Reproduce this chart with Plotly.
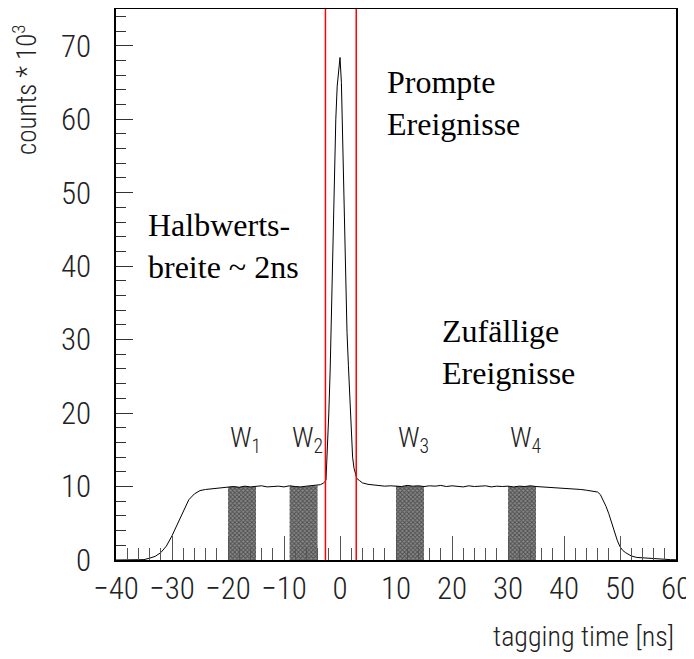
import plotly.graph_objects as go

# tagging time spectrum (ns) and counts (in units of 10^3)
t_left = [-40, -39, -38, -37, -36, -35, -34, -33, -32, -31, -30, -29, -28, -27, -26,
          -25, -24, -23, -22, -21, -20, -19, -18, -17, -16, -15, -14, -13, -12, -11,
          -10, -9, -8, -7, -6, -5, -4, -3.5, -3]
c_left = [0.0, 0.0, 0.0, 0.01, 0.02, 0.05, 0.25, 0.5, 1.0, 1.9, 3.3, 5.0, 6.6, 8.2, 9.0,
          9.45, 9.6, 9.7, 9.75, 9.85, 9.95, 10.0, 9.9, 10.05, 9.95, 10.0, 10.1, 9.95, 10.0, 10.05,
          9.95, 10.1, 10.0, 9.95, 10.05, 10.1, 10.15, 10.25, 10.45]

t_peak = [-2.75, -2.5, -2.25, -2.0, -1.75, -1.5, -1.25, -1.0, -0.75, -0.5, -0.25, 0.0,
          0.25, 0.5, 0.75, 1.0, 1.25, 1.5, 1.75, 2.0, 2.25, 2.5, 2.75, 3.0, 3.5]
c_peak = [10.6, 10.9, 14.5, 20.0, 26.0, 35.0, 43.0, 51.0, 60.0, 64.5, 67.0, 68.4,
          65.0, 56.0, 48.0, 38.0, 31.0, 26.5, 22.5, 17.0, 14.0, 12.5, 11.6, 11.1, 10.8]

t_right = [4, 5, 6, 7, 8, 9, 10, 11, 12, 13, 14, 15, 16, 17, 18, 19, 20, 21, 22, 23, 24,
           25, 26, 27, 28, 29, 30, 31, 32, 33, 34, 35, 36, 37, 38, 39, 40, 41, 42, 43, 44,
           45, 46, 46.5, 47, 47.5, 48, 48.5, 49, 49.5, 50, 50.5, 51, 52, 53, 54, 55, 56,
           57, 58, 59, 60]
c_right = [10.5, 10.3, 10.2, 10.15, 10.05, 10.1, 10.1, 10.0, 10.15, 10.05, 10.1, 10.0,
           10.1, 10.05, 10.15, 10.0, 10.1, 10.05, 9.95, 10.1, 10.0, 10.05, 10.1, 9.95, 10.05,
           10.0, 10.05, 9.95, 10.05, 10.0, 10.1, 10.0, 9.95, 10.0, 9.9, 9.85, 9.8, 9.75, 9.7,
           9.6, 9.5, 9.4, 9.25, 8.9, 8.2, 7.3, 6.3, 5.1, 3.8, 2.7, 1.8, 1.3, 1.0, 0.55, 0.35,
           0.28, 0.25, 0.2, 0.15, 0.1, 0.05, 0.03]

t = t_left + t_peak + t_right
counts = c_left + c_peak + c_right

# random-coincidence windows
w_names = ["W<sub>1</sub>", "W<sub>2</sub>", "W<sub>3</sub>", "W<sub>4</sub>"]
w_lo = [-20, -9, 10, 30]
w_hi = [-15, -4, 15, 35]

# prompt cut
prompt_cut = [-2.6, 2.9]

thin = "Liberation Sans Narrow, Roboto Condensed, Roboto"
tick_font = dict(family=thin, size=31, color="#222", weight=300)
serif = dict(family="Liberation Serif", size=32, color="black")

fig = go.Figure()

for lo, hi in zip(w_lo, w_hi):
    xs = [x for x in t if lo <= x <= hi]
    ys = [c for x, c in zip(t, counts) if lo <= x <= hi]
    fig.add_trace(go.Scatter(
        x=xs, y=ys, mode="lines", fill="tozeroy",
        line=dict(width=0, color="#333"),
        fillcolor="#555",
        fillpattern=dict(shape="x", size=3, solidity=0.5, fgcolor="#111", bgcolor="#888"),
        showlegend=False, hoverinfo="skip"))

fig.add_trace(go.Scatter(x=t, y=counts, mode="lines",
                         line=dict(color="black", width=1), showlegend=False))

for xc in prompt_cut:
    fig.add_shape(type="line", xref="x", yref="paper", x0=xc, x1=xc, y0=0, y1=1,
                  line=dict(color="red", width=1.5))

for name, lo in zip(w_names, w_lo):
    fig.add_annotation(x=lo, y=16.4, text=name, showarrow=False, xanchor="left",
                       yanchor="middle", font=dict(family=thin, size=28, color="#222", weight=300))

fig.add_annotation(x=-34.7, y=42.7, text="Halbwerts-<br>breite ~ 2ns", showarrow=False,
                   xanchor="left", yanchor="middle", align="left", font=serif)
fig.add_annotation(x=8.1, y=62.2, text="Prompte<br>Ereignisse", showarrow=False,
                   xanchor="left", yanchor="middle", align="left", font=serif)
fig.add_annotation(x=17.9, y=28.3, text="Zufällige<br>Ereignisse", showarrow=False,
                   xanchor="left", yanchor="middle", align="left", font=serif)

fig.add_annotation(xref="paper", yref="paper", x=-0.1625, y=0.853, text="counts * 10<sup>3</sup>",
                   textangle=-90, showarrow=False, xanchor="center", yanchor="middle",
                   font=dict(family=thin, size=27, color="#222", weight=300))
fig.add_annotation(xref="paper", yref="paper", x=1.0, y=-0.105, text="tagging time [ns]",
                   showarrow=False, xanchor="right", yanchor="top",
                   font=dict(family=thin, size=28, color="#222", weight=300))

fig.update_xaxes(range=[-40, 60], dtick=10, tick0=0, ticks="inside", ticklen=24,
                 tickcolor="#555", tickwidth=1, tickfont=tick_font, tickangle=0,
                 minor=dict(dtick=2, ticks="inside", ticklen=12, tickcolor="#555"),
                 showline=True, linecolor="black", linewidth=1.5, mirror=True,
                 showgrid=False, zeroline=False, layer="above traces", automargin=False)
fig.update_yaxes(range=[0, 75], dtick=10, tick0=0, ticks="inside", ticklen=17,
                 tickcolor="#333", tickwidth=1, tickfont=tick_font, ticklabelstandoff=17,
                 minor=dict(dtick=2, ticks="inside", ticklen=10, tickcolor="#333"),
                 showline=True, linecolor="black", linewidth=1.5, mirror=True,
                 showgrid=False, zeroline=False, layer="above traces", automargin=False)

# page body has an 8px margin, so the figure is drawn 8px smaller
fig.update_layout(width=686, height=651, plot_bgcolor="white", paper_bgcolor="white",
                  margin=dict(l=108, r=18, t=1, b=99))

fig.write_html("out.html")
